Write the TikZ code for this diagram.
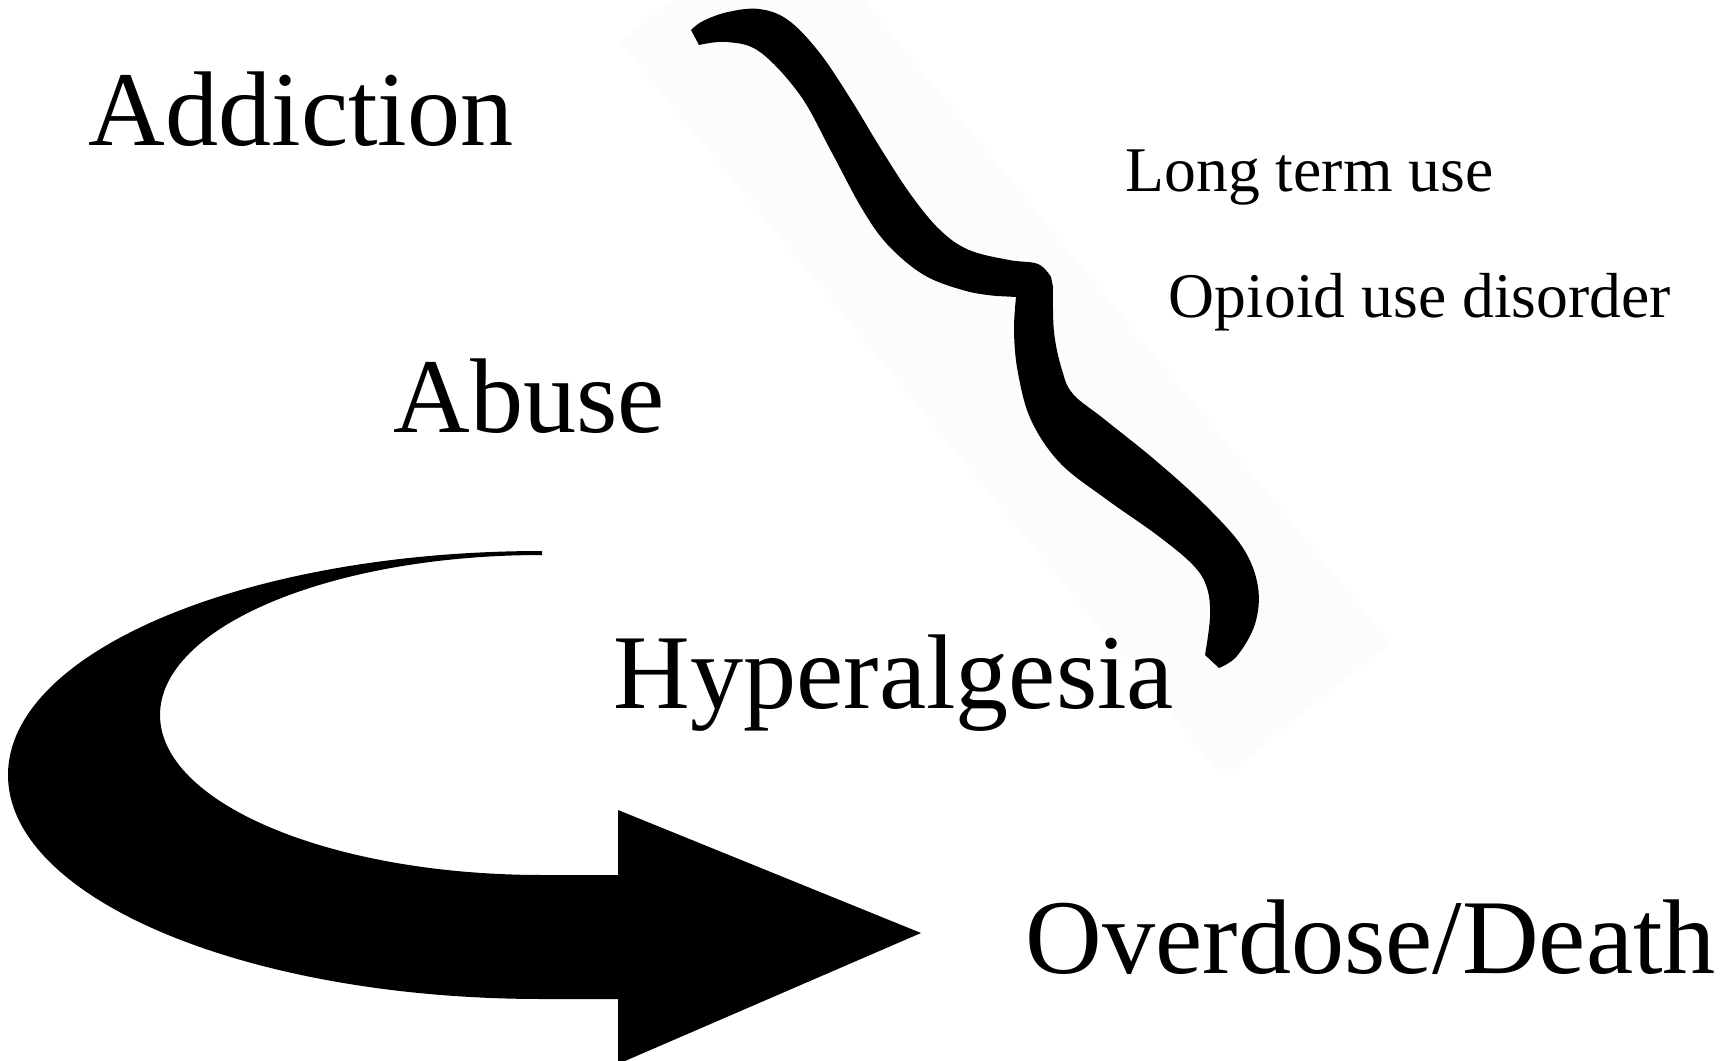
\documentclass[tikz,border=0pt]{standalone}
\usepackage{fontspec}
\setmainfont{Liberation Serif}
\usepackage{tikz}
\usetikzlibrary{calc,positioning}
\definecolor{paleback}{rgb}{0.99,0.99,0.99}

\begin{document}
\begin{tikzpicture}[x=0.01cm,y=-0.01cm,
    bigword/.style={anchor=base west,inner sep=0,font=\fontsize{30.2pt}{36pt}\selectfont},
    smallword/.style={anchor=base west,inner sep=0,font=\fontsize{18.1pt}{22pt}\selectfont}]
      \useasboundingbox (0,0) rectangle (1736,1061);
      \clip (0,0) rectangle (1736,1061);
      % faint box behind the brace
      \fill[paleback] (620,42) -- (787,-93) -- (1390,643) -- (1223,778) -- cycle;
      % Draw the brace
      \fill[black] plot [smooth, tension=0.6] coordinates {(691,30) (703,21) (728,12) (759,9) (788,20) (819,52) (850,98) (881,149) (911,195) (940,230) (969,250) (1009,260) (1038,264) (1051,277)}
        -- plot [smooth, tension=0.6] coordinates {(1053,287) (1054,332) (1062,370) (1073,394) (1104,419) (1155,460) (1206,506) (1243,548) (1258,587) (1255,624) (1237,656) (1219,668)}
        -- plot [smooth, tension=0.6] coordinates {(1205,655) (1210,617) (1207,588) (1193,565) (1157,535) (1106,499) (1060,463) (1031,420) (1018,373) (1014,332) (1016,297)}
        -- plot [smooth, tension=0.6] coordinates {(997,296) (966,291) (924,275) (887,244) (861,207) (831,151) (800,95) (760,52) (727,42) (699,45)}
        -- cycle;
      % Draw the curved arrow
      \fill[black] (542,551) arc [start angle=-90, end angle=-270, x radius=534, y radius=224]
        -- (618,999) -- (618,1064) -- (921,933) -- (618,810) -- (618,875) -- (542,875)
        arc [start angle=90, end angle=270, x radius=382, y radius=160] -- cycle;
      % label the stages
      \node[bigword] (addiction) at (88,146) {Addiction};
      \node[bigword] (abuse) at (393,433) {Abuse};
      \node[bigword] (hyper) at (613,708) {Hyperalgesia};
      \node[bigword] (overdose) at (1025,973) {Overdose/Death};
      % label the brace
      \node[smallword] (longterm) at (1125,192) {Long term use};
      \node[smallword] (oud) at (1168,318) {Opioid use disorder};
\end{tikzpicture}
\end{document}
